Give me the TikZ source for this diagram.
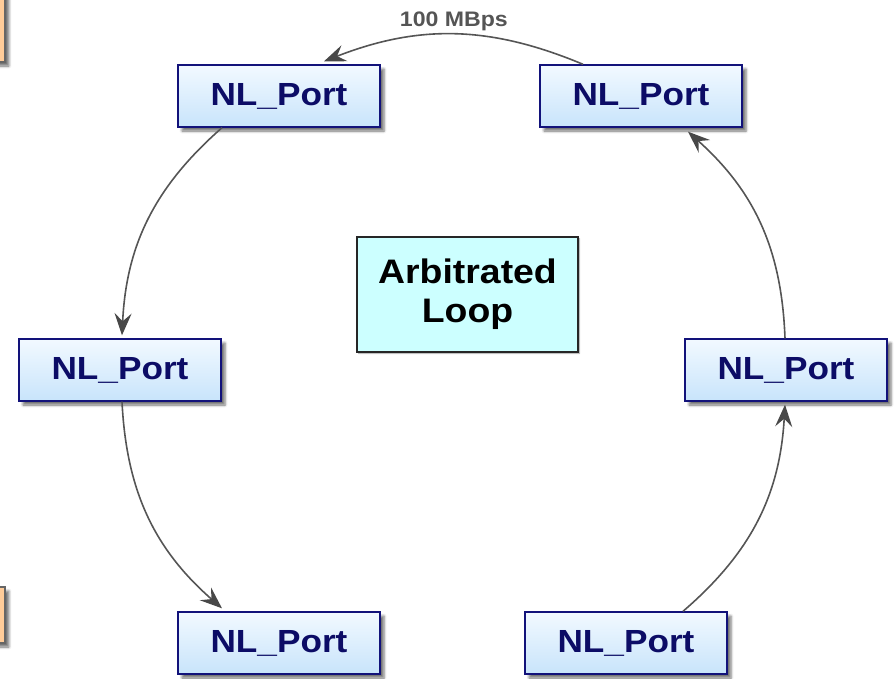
\documentclass[tikz,border=0pt]{standalone}
\usepackage{fontspec}
\setmainfont{Liberation Sans}[FakeStretch=1.1]
\usetikzlibrary{arrows.meta,shadows.blur}

\definecolor{portnavy}{HTML}{12127A}
\definecolor{porttext}{HTML}{0C0C66}
\definecolor{porttop}{HTML}{F2F9FF}
\definecolor{portbot}{HTML}{C8E4FB}
\definecolor{loopfill}{HTML}{CCFFFF}
\definecolor{linkgray}{HTML}{555555}
\definecolor{tipgray}{HTML}{484848}
\definecolor{peach}{HTML}{FFCC99}

\tikzset{
  portbox/.style={rectangle, draw=portnavy, line width=1.4pt,
    top color=porttop, bottom color=portbot,
    minimum width=202pt, minimum height=62pt, inner sep=0pt,
    text=porttext, font=\bfseries\fontsize{32}{36}\selectfont,
    blur shadow={shadow xshift=4pt, shadow yshift=-4pt,
      shadow blur radius=2.5pt, shadow opacity=55}},
  loopbox/.style={rectangle, draw=black!85, line width=1.1pt, fill=loopfill,
    minimum width=221pt, minimum height=115pt, inner sep=0pt,
    align=center, font=\bfseries\fontsize{34}{39}\selectfont,
    blur shadow={shadow xshift=1.5pt, shadow yshift=-1.5pt,
      shadow blur radius=1pt, shadow opacity=40}},
  sidebox/.style={draw=black!60, line width=1.4pt, fill=peach,
    blur shadow={shadow xshift=4pt, shadow yshift=-4pt,
      shadow blur radius=2.5pt, shadow opacity=55}},
  link/.style={draw=linkgray, line width=1.6pt,
    -{Stealth[length=22pt,width=17pt,inset=8pt,color=tipgray]}},
  ratelabel/.style={text=linkgray, font=\bfseries\fontsize{21}{24}\selectfont}
}

\begin{document}
\begin{tikzpicture}[x=1pt,y=-1pt]
  \useasboundingbox (0,0) rectangle (896,678);

  % partially visible boxes at the left border
  \path[sidebox] (-40,-12) rectangle (5,62);
  \path[sidebox] (-40,587) rectangle (5,643);

  % ports on the loop
  \node[portbox] (tl) at (279,96)  {NL\_Port};
  \node[portbox] (tr) at (641,96)  {NL\_Port};
  \node[portbox] (ml) at (120,370) {NL\_Port};
  \node[portbox] (mr) at (786,370) {NL\_Port};
  \node[portbox] (bl) at (279,643) {NL\_Port};
  \node[portbox] (br) at (626,643) {NL\_Port};

  \node[loopbox] (loop) at (467.5,294.5) {Arbitrated\\Loop};

  % loop links
  \draw[link] ([xshift=-58pt]tr.north) to[bend right=22]
      node[ratelabel, above=-1pt, pos=0.5] (rate) {100 MBps}
      ([xshift=45pt,yshift=3pt]tl.north);
  \draw[link] ([xshift=-57pt]tl.south) to[bend right=23]
      ([xshift=2pt,yshift=3pt]ml.north);
  \draw[link] ([xshift=2pt]ml.south) to[bend right=23]
      ([xshift=-57pt,yshift=3pt]bl.north);
  \draw[link] ([xshift=57pt]br.north) to[bend right=23]
      ([xshift=-1pt,yshift=-3pt]mr.south);
  \draw[link] ([xshift=-1pt]mr.north) to[bend right=23]
      ([xshift=47pt,yshift=-4pt]tr.south);
\end{tikzpicture}
\end{document}
